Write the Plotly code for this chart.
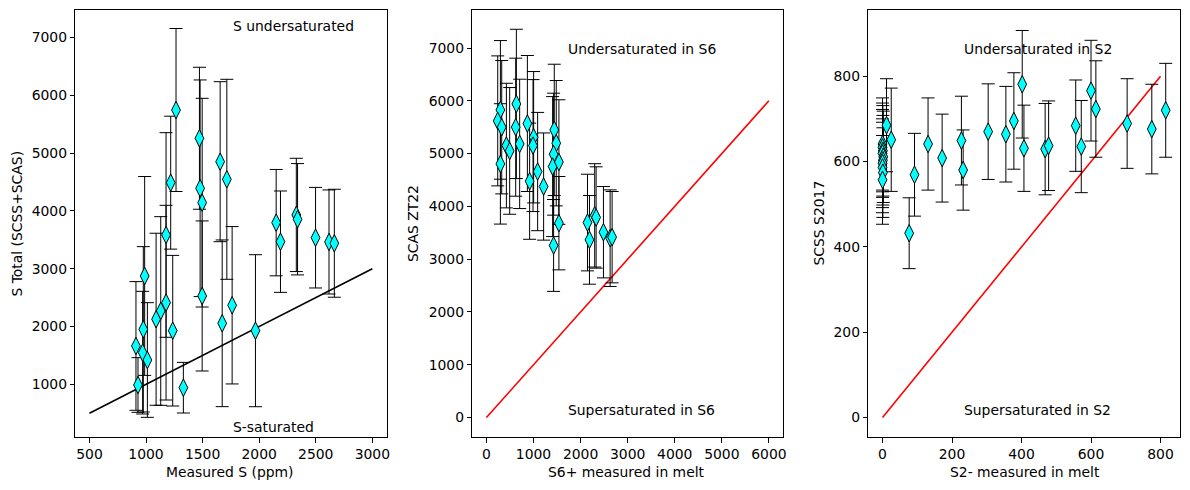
import plotly.graph_objects as go

# ---------------- data ----------------
# Panel 1: Measured S vs S Total (SCSS+SCAS)
meas_s = [1265, 1218, 1177, 988, 1177, 1130, 1089, 976, 1236, 911, 970, 1012, 929, 1330,
          1472, 1478, 1496, 1496, 1655, 1714, 1673, 1761, 1967, 2150, 2188, 2328, 2339,
          2498, 2617, 2664]
s_total = [5745, 4488, 3583, 2874, 2412, 2268, 2125, 1951, 1927, 1663, 1547, 1420, 988, 941,
           5256, 4391, 4142, 2528, 4851, 4546, 2055, 2367, 1927, 3796, 3467, 3930, 3855,
           3536, 3462, 3440]
s_total_err = [1410, 1150, 1770, 1720, 1684, 1632, 1488, 1430, 1303, 1113, 1061, 992, 473, 438,
               1228, 1874, 1805, 1298, 1384, 1730, 1442, 1361, 1315, 920, 877, 980, 963,
               870, 900, 934]
line1_x = [500, 3000]
line1_y = [500, 3000]

# Panel 2: S6+ measured vs SCAS ZT22
s6_meas = [297, 240, 325, 424, 494, 297, 636, 622, 706, 870, 1003, 990, 918, 1088, 1215,
           1441, 1483, 1427, 1406, 1540, 1540, 1427, 2147, 2189, 2300, 2330, 2486, 2628, 2670]
scas = [5828, 5620, 5500, 5152, 5051, 4805, 5941, 5500, 5184, 5570, 5310, 5152, 4477, 4660, 4376,
        5449, 5197, 4989, 4754, 4840, 3682, 3260, 3694, 3366, 3830, 3790, 3511, 3398, 3417]
scas_err = [1313, 1231, 1263, 1180, 1200, 1140, 1414, 1307, 1225, 1288, 1244, 1250, 1100, 1120, 1015,
            1244, 1187, 1155, 1326, 1180, 884, 870, 915, 840, 979, 960, 865, 915, 865]
line2_x = [0, 6000]
line2_y = [0, 6000]

# Panel 3: S2- measured vs SCSS S2017
s2_meas = [0, 0, 1, 0, 2, 1, 0, 0, 1, 0, 11.5, 25, 76.6, 92, 131, 171.5, 227, 232, 304, 355,
           378, 402, 407, 468, 478, 556, 572, 600, 614, 704, 775, 815]
scss = [641, 633, 625, 619, 611, 603, 596, 586, 574, 557, 685, 651, 432, 569, 641, 608, 649, 580,
        670, 664, 695, 781, 631, 629, 637, 684, 635, 766, 723, 689, 676, 720]
scss_err = [108, 104, 106, 103, 107, 105, 104, 106, 105, 104, 109, 121, 83, 97, 108, 103, 104, 94,
            112, 112, 113, 126, 101, 107, 105, 107, 108, 118, 113, 105, 105, 110]
line3_x = [0, 800]
line3_y = [0, 800]

# ---------------- figure ----------------
W, H = 1190, 490
FONT = "DejaVu Sans"
FS = 13.9
fig = go.Figure()

marker = dict(symbol="diamond-tall", size=12.5, color="#00FFFF",
              line=dict(color="black", width=1))
err_style = dict(type="data", visible=True, color="black", thickness=1, width=6.5)

def add_panel(xs, ys, es, lx, ly, lcolor, n):
    xa = "x" if n == 1 else f"x{n}"
    ya = "y" if n == 1 else f"y{n}"
    fig.add_trace(go.Scatter(x=lx, y=ly, mode="lines", line=dict(color=lcolor, width=1.6),
                             xaxis=xa, yaxis=ya, showlegend=False, hoverinfo="skip"))
    fig.add_trace(go.Scatter(x=xs, y=ys, mode="markers", marker=marker,
                             error_y=dict(array=es, **err_style),
                             xaxis=xa, yaxis=ya, showlegend=False))

add_panel(meas_s, s_total, s_total_err, line1_x, line1_y, "black", 1)
add_panel(s6_meas, scas, scas_err, line2_x, line2_y, "red", 2)
add_panel(s2_meas, scss, scss_err, line3_x, line3_y, "red", 3)

def px(v):
    return v / W

def py(v):
    return 1 - v / H

doms = [(75.3, 386.5), (472.3, 783.0), (868.3, 1180.3)]
ydom = [py(437), py(10)]

axis_common = dict(showgrid=False, zeroline=False, showline=True, linecolor="black",
                   linewidth=1, mirror=True, ticks="outside", ticklen=4.5, tickwidth=1,
                   tickcolor="black", tickfont=dict(family=FONT, size=FS, color="black"),
                   automargin=False)

ranges = [
    ([375, 3125], [88, 7475], [500, 1000, 1500, 2000, 2500, 3000], [1000, 2000, 3000, 4000, 5000, 6000, 7000]),
    ([-300, 6300], [-368, 7720], [0, 1000, 2000, 3000, 4000, 5000, 6000], [0, 1000, 2000, 3000, 4000, 5000, 6000, 7000]),
    ([-41, 857], [-45.5, 955], [0, 200, 400, 600, 800], [0, 200, 400, 600, 800]),
]

layout = dict(width=W, height=H, margin=dict(l=0, r=0, t=0, b=0),
              paper_bgcolor="white", plot_bgcolor="white",
              font=dict(family=FONT, size=FS, color="black"))
for i, (d, (xr, yr, xt, yt)) in enumerate(zip(doms, ranges), start=1):
    sx = "" if i == 1 else str(i)
    layout[f"xaxis{sx}"] = dict(domain=[px(d[0]), px(d[1])], range=xr, tickvals=xt,
                               anchor=f"y{sx}", **axis_common)
    layout[f"yaxis{sx}"] = dict(domain=ydom, range=yr, tickvals=yt,
                               anchor=f"x{sx}", **axis_common)
fig.update_layout(**layout)

ann = []
# axis titles
xtitles = [("Measured S (ppm)", 230), ("S6+ measured in melt", 626.7), ("S2- measured in melt", 1024.8)]
for t, cx in xtitles:
    ann.append(dict(text=t, x=px(cx), y=py(472), xref="paper", yref="paper",
                    xanchor="center", yanchor="middle", showarrow=False,
                    font=dict(family=FONT, size=FS, color="black")))
ytitles = [("S Total (SCSS+SCAS)", 16), ("SCAS ZT22", 412.5), ("SCSS S2017", 818)]
for t, cx in ytitles:
    ann.append(dict(text=t, x=px(cx), y=py(223.5), xref="paper", yref="paper",
                    xanchor="center", yanchor="middle", showarrow=False, textangle=-90,
                    font=dict(family=FONT, size=FS, color="black")))
# in-plot labels
inplot = [
    ("S undersaturated", 1750, 7199, "x", "y"),
    ("S-saturated", 1750, 256, "x", "y"),
    ("Undersaturated in S6", 1690, 6990, "x2", "y2"),
    ("Supersaturated in S6", 1690, 146, "x2", "y2"),
    ("Undersaturated in S2", 229, 863, "x3", "y3"),
    ("Supersaturated in S2", 229, 17, "x3", "y3"),
]
for t, x, y, xr, yr in inplot:
    ann.append(dict(text=t, x=x, y=y, xref=xr, yref=yr, xanchor="left", yanchor="middle",
                    showarrow=False, font=dict(family=FONT, size=FS, color="black")))
fig.update_layout(annotations=ann)

fig.write_html("out.html")
